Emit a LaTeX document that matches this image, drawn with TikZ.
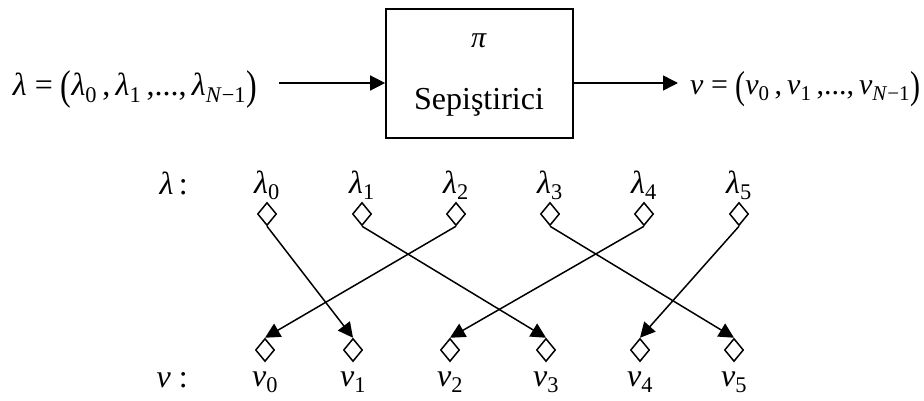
\documentclass[tikz,border=0pt]{standalone}
\usepackage{fontspec}
\setmainfont{Liberation Serif}
\usepackage{graphicx}
\usetikzlibrary{arrows.meta, positioning, shapes.geometric}
\newcommand{\lam}{\textit{λ}}
\newcommand{\vv}{\textit{v}}
\newcommand{\sbs}[1]{\textsubscript{#1}}
\newcommand{\lpar}{\raisebox{-0.12em}{\scalebox{1}[1.3]{(}}}
\newcommand{\rpar}{\raisebox{-0.12em}{\scalebox{1}[1.3]{)}}}

\begin{document}
\begin{tikzpicture}[x=1pt, y=-1pt,
    blk/.style={rectangle, draw, line width=1.7pt, minimum width=187pt, minimum height=129pt},
    arr/.style={-{Triangle[length=15pt, width=15pt]}, line width=1.5pt},
    dmd/.style={diamond, draw, line width=1.5pt, minimum width=19pt, minimum height=23pt, inner sep=0pt},
    lbl/.style={inner sep=0pt, font=\fontsize{32}{32}\selectfont},
    node distance=2pt
  ]
  \useasboundingbox (0,0) rectangle (924,401);
  % permutation block
  \node[blk] (perm) at (479.5,73.5) {};
  \node[lbl, font=\fontsize{30}{30}\selectfont] (pi) at (479,41) {\textit{π}};
  \node[lbl, anchor=base] (sep) at (479,110) {Sepiştirici};
  \coordinate (inA) at (279,83);
  \coordinate (outB) at (678,83);
  \node[lbl, anchor=base east] (inp) at (257,96)
    {\lam\ =\ \lpar\lam\sbs{0}\,,\,\lam\sbs{1}\,,...,\,\lam\sbs{\textit{N}−1}\rpar};
  \node[lbl, font=\fontsize{30}{30}\selectfont, anchor=base west] (outp) at (690,95)
    {\vv\ =\ \lpar\vv\sbs{0}\,,\,\vv\sbs{1}\,,...,\,\vv\sbs{\textit{N}−1}\rpar};
  \draw[arr] (inA) -- (inA -| perm.west);
  \draw[arr] (perm.east |- outB) -- (outB);
  % input positions
  \node[lbl, anchor=base east] (lamrow) at (188,194) {\lam\,:};
  \node[dmd] (t0) at (267,214) {};
  \node[dmd] (t1) at (362,214) {};
  \node[dmd] (t2) at (456,214) {};
  \node[dmd] (t3) at (550,214) {};
  \node[dmd] (t4) at (644,214) {};
  \node[dmd] (t5) at (739,214) {};
  \node[lbl, above=of t0] (l0) {\lam\sbs{0}};
  \node[lbl, above=of t1] (l1) {\lam\sbs{1}};
  \node[lbl, above=of t2] (l2) {\lam\sbs{2}};
  \node[lbl, above=of t3] (l3) {\lam\sbs{3}};
  \node[lbl, above=of t4] (l4) {\lam\sbs{4}};
  \node[lbl, above=of t5] (l5) {\lam\sbs{5}};
  % output positions
  \node[lbl, anchor=base east] (vrow) at (188,387) {\vv\ :};
  \node[dmd] (b0) at (265,350) {};
  \node[dmd] (b1) at (353,350) {};
  \node[dmd] (b2) at (450,350) {};
  \node[dmd] (b3) at (546,350) {};
  \node[dmd] (b4) at (640,350) {};
  \node[dmd] (b5) at (734,350) {};
  \node[lbl, below=9pt of b0] (v0) {\vv\sbs{0}};
  \node[lbl, below=9pt of b1] (v1) {\vv\sbs{1}};
  \node[lbl, below=9pt of b2] (v2) {\vv\sbs{2}};
  \node[lbl, below=9pt of b3] (v3) {\vv\sbs{3}};
  \node[lbl, below=9pt of b4] (v4) {\vv\sbs{4}};
  \node[lbl, below=9pt of b5] (v5) {\vv\sbs{5}};
  \draw[arr] (t0.south) -- (b1.north);
  \draw[arr] (t1.south) -- (b3.north);
  \draw[arr] (t2.south) -- (b0.north);
  \draw[arr] (t3.south) -- (b5.north);
  \draw[arr] (t4.south) -- (b2.north);
  \draw[arr] (t5.south) -- (b4.north);
\end{tikzpicture}
\end{document}
